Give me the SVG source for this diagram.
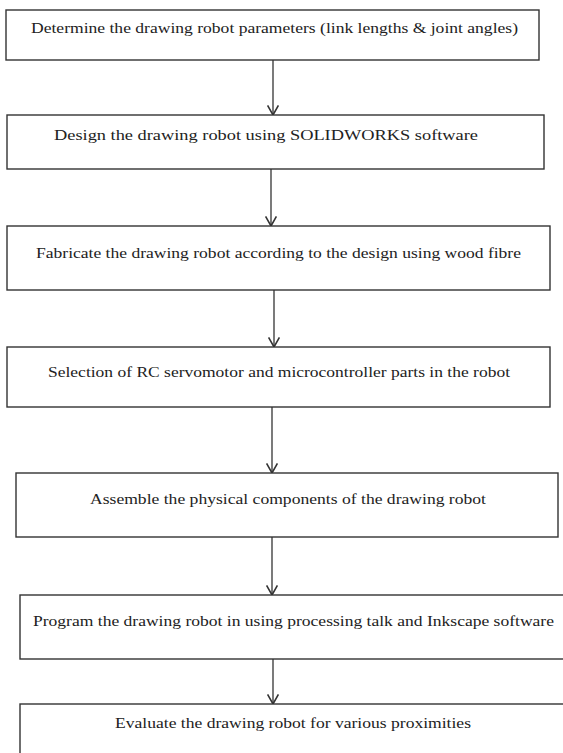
<svg xmlns="http://www.w3.org/2000/svg" width="563" height="753" viewBox="0 0 563 753">
<style>
.box{fill:#fff;stroke:#333;stroke-width:1.4}
.t{font-family:'Liberation Serif','Times New Roman',serif;font-size:15px;fill:#222}
.c{stroke:#333;stroke-width:1.3;fill:none}
</style>
<defs>
<marker id="ah" markerUnits="userSpaceOnUse" markerWidth="12" markerHeight="12" refX="9" refY="5" orient="auto" viewBox="0 0 10 10">
<path d="M1,0.5 L9,5 L1,9.5" fill="none" stroke="#333" stroke-width="1.3"/>
</marker>
</defs>
<rect width="563" height="753" fill="#fff"/>
<g id="connectors">
<line class="c" x1="273" y1="60" x2="273" y2="115" marker-end="url(#ah)"/>
<line class="c" x1="271" y1="169" x2="271" y2="226" marker-end="url(#ah)"/>
<line class="c" x1="274" y1="290" x2="274" y2="347" marker-end="url(#ah)"/>
<line class="c" x1="272" y1="407" x2="272" y2="473" marker-end="url(#ah)"/>
<line class="c" x1="272" y1="537" x2="272" y2="595" marker-end="url(#ah)"/>
<line class="c" x1="273" y1="659" x2="273" y2="704" marker-end="url(#ah)"/>
</g>
<g id="n1"><rect class="box" x="6" y="10" width="533" height="50"/>
<text class="t" x="31" y="33" textLength="487" lengthAdjust="spacingAndGlyphs">Determine the drawing robot parameters (link lengths &amp; joint angles)</text></g>
<g id="n2"><rect class="box" x="7" y="115" width="537" height="54"/>
<text class="t" x="54" y="140" textLength="424" lengthAdjust="spacingAndGlyphs">Design the drawing robot using SOLIDWORKS software</text></g>
<g id="n3"><rect class="box" x="7" y="226" width="543" height="64"/>
<text class="t" x="36" y="258" textLength="485" lengthAdjust="spacingAndGlyphs">Fabricate the drawing robot according to the design using wood fibre</text></g>
<g id="n4"><rect class="box" x="7" y="347" width="543" height="60"/>
<text class="t" x="48" y="377" textLength="462" lengthAdjust="spacingAndGlyphs">Selection of RC servomotor and microcontroller parts in the robot</text></g>
<g id="n5"><rect class="box" x="16" y="473" width="542" height="64"/>
<text class="t" x="90" y="504" textLength="396" lengthAdjust="spacingAndGlyphs">Assemble the physical components of the drawing robot</text></g>
<g id="n6"><rect class="box" x="20" y="595" width="560" height="64"/>
<text class="t" x="33" y="626" textLength="521" lengthAdjust="spacingAndGlyphs">Program the drawing robot in using processing talk and Inkscape software</text></g>
<g id="n7"><rect class="box" x="20" y="704" width="560" height="70"/>
<text class="t" x="115" y="728" textLength="356" lengthAdjust="spacingAndGlyphs">Evaluate the drawing robot for various proximities</text></g>
</svg>
